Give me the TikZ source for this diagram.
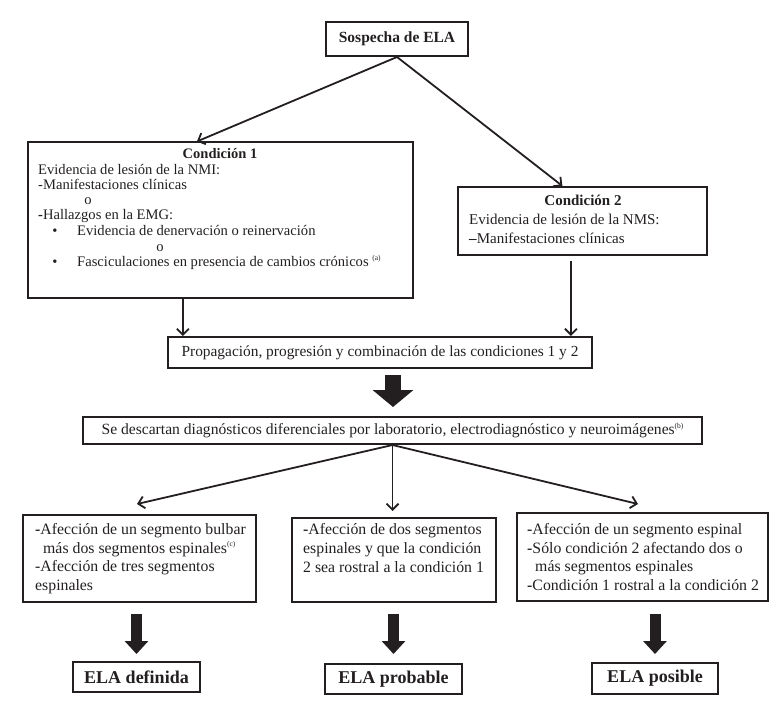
\documentclass[tikz,border=0pt]{standalone}
\usepackage{fontspec}
\setmainfont{Liberation Serif}
\usetikzlibrary{arrows.meta,calc}
\definecolor{ink}{HTML}{231F20}
\newcommand\mysup[1]{\raisebox{0.42em}{\fontsize{7.5}{8}\selectfont #1}}
\begin{document}
\begin{tikzpicture}[x=1pt,y=-1pt,color=ink,
  box/.style={draw=ink,line width=2pt,inner sep=0pt,text=ink},
  conn/.style={draw=ink,line width=1.8pt,-{Straight Barb[length=6pt,width=12pt,line width=1.8pt]}},
  bigarr/.style={draw=ink,line width=16pt,-{Triangle[length=17pt,width=40pt]}},
  smallarr/.style={draw=ink,line width=11pt,-{Triangle[length=13pt,width=23pt]}},
  ln/.style={anchor=base west,inner sep=0pt,text=ink},
  ctr/.style={anchor=base,inner sep=0pt,text=ink},
  c1t/.style={font=\fontsize{14.6}{16}\selectfont},
  c2t/.style={font=\fontsize{15}{18}\selectfont},
  bt/.style={font=\fontsize{15.8}{18}\selectfont},
  ttl/.style={font=\bfseries\fontsize{14.5}{16}\selectfont},
  ela/.style={box,font=\bfseries\fontsize{18}{20}\selectfont}
]
\useasboundingbox (0,0) rectangle (775,714);

% top
\node[box,minimum width=142pt,minimum height=34pt,font=\bfseries\fontsize{15.5}{18}\selectfont] (s) at (397,39) {Sospecha de ELA};

% condicion 1
\node[box,minimum width=385pt,minimum height=155pt] (c1) at (220.5,220) {};
\node[ctr,ttl] (c1title) at (220,159) {Condición 1};
\node[ln,c1t] (c1a) at (38,174) {Evidencia de lesión de la NMI:};
\node[ln,c1t] (c1b) at (38,189.5) {-Manifestaciones clínicas};
\node[ctr,c1t] (c1c) at (88,204.5) {o};
\node[ln,c1t] (c1d) at (38,219.5) {\textbf{-}Hallazgos en la EMG:};
\node[ctr,c1t] (c1e) at (55,235) {•};
\node[ln,c1t] (c1f) at (77,235) {Evidencia de denervación o reinervación};
\node[ctr,c1t] (c1g) at (160,251) {o};
\node[ctr,c1t] (c1h) at (55,266.5) {•};
\node[ln,c1t] (c1i) at (77,266.5) {Fasciculaciones en presencia de cambios crónicos \mysup{(a)}};

% condicion 2
\node[box,minimum width=249pt,minimum height=68pt] (c2) at (582.5,221) {};
\node[ctr,font=\bfseries\fontsize{15}{16}\selectfont] (c2title) at (583,205) {Condición 2};
\node[ln,c2t] (c2a) at (469,224.5) {Evidencia de lesión de la NMS:};
\node[ln,c2t] (c2b) at (469,243) {\textbf{–}Manifestaciones clínicas};

% propagacion
\node[box,minimum width=424pt,minimum height=31pt,font=\fontsize{15.4}{18}\selectfont] (p) at (380,352.5) {Propagación, progresión y combinación de las condiciones 1 y 2};

% descartan
\node[box,minimum width=619pt,minimum height=27pt,font=\fontsize{15.6}{18}\selectfont] (d) at (392.5,430.5) {Se descartan diagnósticos diferenciales por laboratorio, electrodiagnóstico y neuroimágenes\mysup{(b)}\hspace{12pt}};

% bottom boxes
\node[box,minimum width=233pt,minimum height=87pt] (lb) at (139.5,558.5) {};
\node[ln,bt] (lb1) at (35,534.5) {\textbf{-}Afección de un segmento bulbar};
\node[ln,bt] (lb2) at (43,553.5) {más dos segmentos espinales\mysup{(c)}};
\node[ln,bt] (lb3) at (35,571.5) {-Afección de tres segmentos};
\node[ln,bt] (lb4) at (35,590.5) {espinales};

\node[box,minimum width=204pt,minimum height=84pt] (mb) at (394,560) {};
\node[ln,bt] (mb1) at (303,534.5) {\textbf{-}Afección de dos segmentos};
\node[ln,bt] (mb2) at (303,553.5) {espinales y que la condición};
\node[ln,bt] (mb3) at (303,572.5) {2 sea rostral a la condición 1};

\node[box,minimum width=251pt,minimum height=88pt] (rb) at (642.5,557) {};
\node[ln,bt] (rb1) at (527,534.5) {\textbf{-}Afección de un segmento espinal};
\node[ln,bt] (rb2) at (527,553.5) {\textbf{-}Sólo condición 2 afectando dos o};
\node[ln,bt] (rb3) at (535,571.5) {más segmentos espinales};
\node[ln,bt] (rb4) at (527,590.5) {\textbf{-}Condición 1 rostral a la condición 2};

% results
\node[ela,minimum width=127pt,minimum height=30pt] (ed) at (136.5,677) {ELA definida};
\node[ela,minimum width=137pt,minimum height=30pt] (ep) at (393.5,679) {ELA probable};
\node[ela,minimum width=126pt,minimum height=31pt] (es) at (655,678.5) {ELA posible};

% connectors
\draw[conn] (s.south) -- ($(c1.north west)!0.439!(c1.north east)$);
\draw[conn] (s.south) -- ($(c2.north west)!0.42!(c2.north east)$);
\draw[conn] ($(c1.south west)!0.4026!(c1.south east)$) coordinate (c1o) -- (c1o |- p.north);
\draw[conn,shorten <=5pt] ($(c2.south west)!0.454!(c2.south east)$) coordinate (c2o) -- (c2o |- p.north);
\draw[bigarr] ($(d.north |- p.south)+(0.5,6)$) -- ($(d.north)+(0.5,-9)$);
\draw[conn] (d.south) -- ($(lb.north)+(-2.5,-10)$);
\draw[conn,shorten >=6pt] (d.south) -- (d.south |- mb.north);
\draw[conn] (d.south) -- ($(rb.north)+(-4.5,-8)$);
\draw[smallarr] ($(ed.north |- lb.south)+(0,11)$) -- ($(ed.north)+(0,-7)$);
\draw[smallarr] ($(ep.north |- mb.south)+(0,11)$) -- ($(ep.north)+(0,-9)$);
\draw[smallarr] ($(es.north |- rb.south)+(0,12)$) -- ($(es.north)+(0,-8)$);
\end{tikzpicture}
\end{document}
